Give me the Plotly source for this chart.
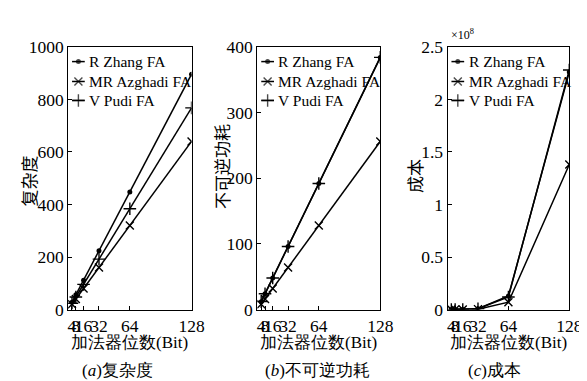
import plotly.graph_objects as go

bits = [4, 8, 16, 32, 64, 128]
tick_labels = ["4", "8", "16", "32", "64", "128"]
series_names = ["R Zhang FA", "MR Azghadi FA", "V Pudi FA"]

# (a) complexity
complexity_zhang = [28, 56, 112, 224, 448, 896]
complexity_azghadi = [20, 40, 80, 160, 320, 640]
complexity_pudi = [24, 48, 96, 192, 384, 768]

# (b) irreversible power
power_zhang = [12, 24, 48, 96, 192, 384]
power_azghadi = [8, 16, 32, 64, 128, 256]
power_pudi = [12, 24, 48, 96, 192, 384]

# (c) cost, in units of 1e8
cost_zhang = [0.0001, 0.0004, 0.001, 0.008, 0.13, 2.26]
cost_azghadi = [0.0001, 0.0002, 0.0006, 0.004, 0.07, 1.38]
cost_pudi = [0.0001, 0.0003, 0.0009, 0.007, 0.12, 2.28]

panel_titles_y = ["复杂度", "不可逆功耗", "成本"]
x_title = "加法器位数(Bit)"
captions = ["(<i>a</i>)复杂度", "(<i>b</i>)不可逆功耗", "(<i>c</i>)成本"]

W, H = 587, 381
SERIF = "Liberation Serif"

def px_x(p):
    return p / W

def px_y(p):
    return 1 - p / H

x_doms = [(61.5, 187.7), (255.0, 380.7), (449.5, 574.0)]
y_dom = (px_y(307.7), px_y(30.5))

styles = [
    dict(symbol="circle", size=5, line=dict(width=0)),
    dict(symbol="x-thin", size=8, line=dict(width=1.4, color="black")),
    dict(symbol="cross-thin", size=9, line=dict(width=1.4, color="black")),
]

data_sets = [
    [complexity_zhang, complexity_azghadi, complexity_pudi],
    [power_zhang, power_azghadi, power_pudi],
    [cost_zhang, cost_azghadi, cost_pudi],
]
y_ranges = [[0, 1000], [0, 400], [0, 2.5]]
y_ticks = [[0, 200, 400, 600, 800, 1000], [0, 100, 200, 300, 400], [0, 0.5, 1, 1.5, 2, 2.5]]
y_ticktext = [None, None, ["0", "0.5", "1", "1.5", "2", "2.5"]]

fig = go.Figure()
layout = dict(
    width=W, height=H, margin=dict(l=0, r=0, t=0, b=0),
    paper_bgcolor="white", plot_bgcolor="rgba(0,0,0,0)",
    font=dict(family=SERIF, color="black", size=17),
    annotations=[], showlegend=False,
)

for i in range(3):
    sfx = "" if i == 0 else str(i + 1)
    for j in range(3):
        fig.add_trace(go.Scatter(
            x=bits, y=data_sets[i][j], name=series_names[j],
            mode="lines+markers",
            line=dict(color="black", width=1.5),
            marker=dict(color="black", **styles[j]),
            xaxis="x" + sfx, yaxis="y" + sfx,
        ))
    layout["xaxis" + sfx] = dict(
        domain=[px_x(x_doms[i][0]), px_x(x_doms[i][1])], anchor="y" + sfx,
        range=[0, 128], tickmode="array", tickvals=bits, ticktext=tick_labels,
        tickangle=0,
        showline=True, mirror=True, linecolor="black", linewidth=1,
        ticks="inside", ticklen=4, tickcolor="black", showgrid=False, zeroline=False,
        tickfont=dict(size=17.5, family=SERIF, color="black"),
    )
    yd = dict(
        domain=list(y_dom), anchor="x" + sfx, range=y_ranges[i],
        tickmode="array", tickvals=y_ticks[i],
        showline=True, mirror=True, linecolor="black", linewidth=1,
        ticks="inside", ticklen=4, tickcolor="black", showgrid=False, zeroline=False,
        tickfont=dict(size=17.5, family=SERIF, color="black"), ticklabelstandoff=0,
    )
    if y_ticktext[i] is not None:
        yd["ticktext"] = y_ticktext[i]
    layout["yaxis" + sfx] = yd

# Hand-drawn legend keys on a hidden full-page pixel axis (layout, not data)
layout["xaxis4"] = dict(domain=[0, 1], range=[0, W], visible=False, anchor="y4", fixedrange=True)
layout["yaxis4"] = dict(domain=[0, 1], range=[H, 0], visible=False, anchor="x4", fixedrange=True)
legend_rows = [46, 67, 87]
key_x0, key_x1, text_dx = 4, 17, 19.5
for i in range(3):
    left = x_doms[i][0]
    for j in range(3):
        ry = legend_rows[j]
        fig.add_trace(go.Scatter(
            x=[left + key_x0, (left + key_x0 + left + key_x1) / 2, left + key_x1],
            y=[ry, ry, ry], mode="lines+markers", hoverinfo="skip",
            line=dict(color="black", width=1.5),
            marker=dict(color="black", symbol=styles[j]["symbol"],
                        size=[0, styles[j]["size"], 0], line=styles[j]["line"]),
            xaxis="x4", yaxis="y4", showlegend=False,
        ))
        layout["annotations"].append(dict(
            text=series_names[j], x=px_x(left + text_dx), y=px_y(ry),
            xref="paper", yref="paper", showarrow=False,
            font=dict(size=15.5, family=SERIF), xanchor="left", yanchor="middle",
        ))

y_title_x = [21, 219, 415]
y_title_y = [172, 157, 167]
cap_x = [112, 316, 498]
for i in range(3):
    layout["annotations"].append(dict(
        text=panel_titles_y[i], x=px_x(y_title_x[i]), y=px_y(y_title_y[i]),
        xref="paper", yref="paper", showarrow=False, textangle=-90,
        font=dict(size=17, family="Noto Sans CJK SC"), xanchor="center", yanchor="middle",
    ))
    layout["annotations"].append(dict(
        text=x_title, x=px_x((x_doms[i][0] + x_doms[i][1]) / 2), y=px_y(343),
        xref="paper", yref="paper", showarrow=False,
        font=dict(size=17, family=SERIF), xanchor="center", yanchor="middle",
    ))
    layout["annotations"].append(dict(
        text=captions[i], x=px_x(cap_x[i]), y=px_y(372),
        xref="paper", yref="paper", showarrow=False,
        font=dict(size=17, family=SERIF), xanchor="center", yanchor="middle",
    ))

layout["annotations"].append(dict(
    text="×10<sup>8</sup>", x=px_x(451), y=px_y(17), xref="paper", yref="paper",
    showarrow=False, font=dict(size=12, family=SERIF), xanchor="left", yanchor="middle",
))

fig.update_layout(**layout)
fig.write_html("out.html")
